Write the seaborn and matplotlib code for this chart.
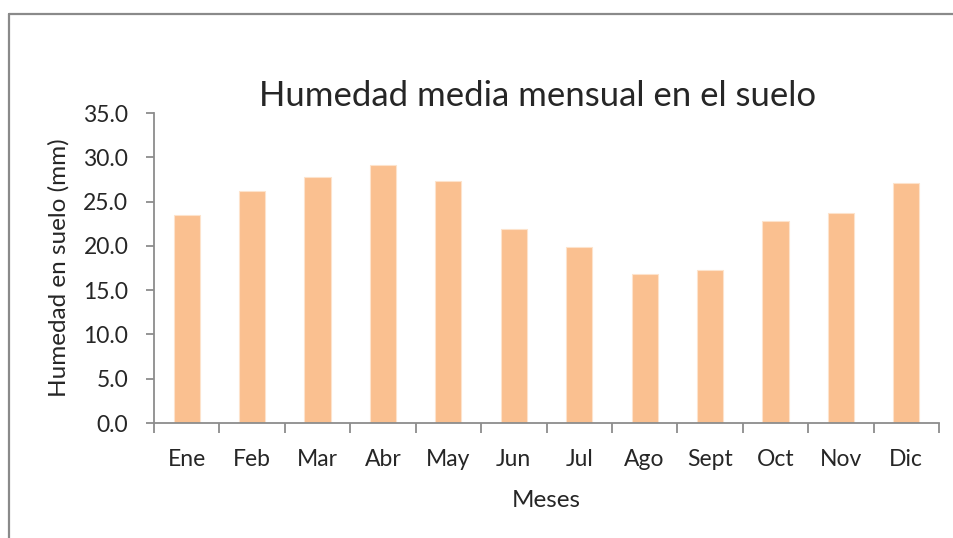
import numpy as np
import pandas as pd
import seaborn as sns
import matplotlib
matplotlib.use("Agg")
from matplotlib import pyplot as plt
from matplotlib.lines import Line2D

# monthly values
meses = ["Ene", "Feb", "Mar", "Abr", "May", "Jun", "Jul", "Ago", "Sept", "Oct", "Nov", "Dic"]
humedad = [23.5, 26.2, 27.8, 29.1, 27.3, 21.9, 19.9, 16.8, 17.3, 22.8, 23.7, 27.1]
yticks = [0, 5, 10, 15, 20, 25, 30, 35]

df = pd.DataFrame({"Meses": meses, "Humedad": humedad})

sns.set_style("white")
plt.rcParams["font.family"] = ["Lato", "DejaVu Sans"]

fig = plt.figure(figsize=(9.54, 5.38), dpi=100)
ax = fig.add_axes([154 / 954, 1 - 423 / 538, (939 - 154) / 954, (423 - 113) / 538])

sns.barplot(data=df, x="Meses", y="Humedad", color="#FAC090", width=0.4,
            saturation=1, edgecolor="#FDE3CC", linewidth=0.8, ax=ax)

ax.set_ylim(0, 35)
ax.set_xlim(-0.5, len(meses) - 0.5)
ax.set_yticks(yticks)
ax.set_yticklabels([f"{v:.1f}" for v in yticks])

grey = "#8c8c8c"
for side in ["top", "right"]:
    ax.spines[side].set_visible(False)
for side in ["left", "bottom"]:
    ax.spines[side].set_color(grey)
    ax.spines[side].set_linewidth(1.3)

# ticks between categories on the x axis
ax.set_xticks(np.arange(-0.5, len(meses), 1), minor=True)
ax.tick_params(axis="x", which="minor", length=7, width=1.3, color=grey, direction="out", bottom=True)
ax.tick_params(axis="x", which="major", length=0, labelsize=16.5, pad=19, bottom=True)
ax.tick_params(axis="y", length=6, width=1.3, color=grey, direction="out", labelsize=16.5, pad=12.5, left=True)

ax.set_xlabel("Meses", fontsize=17.5, labelpad=14)
ax.set_ylabel("Humedad en suelo (mm)", fontsize=17.5, labelpad=10)
fig.text(538 / 954, 1 - 96 / 538, "Humedad media mensual en el suelo", fontsize=25,
         ha="center", va="center")

# outer chart border (cropped on the right and bottom)
border = dict(color="#8a8a8a", linewidth=1.6, transform=fig.transFigure)
fig.add_artist(Line2D([9 / 954, 9 / 954], [-0.05, 1 - 14 / 538], **border))
fig.add_artist(Line2D([9 / 954, 1.05], [1 - 14 / 538, 1 - 14 / 538], **border))

fig.savefig("out.png", dpi=100)
